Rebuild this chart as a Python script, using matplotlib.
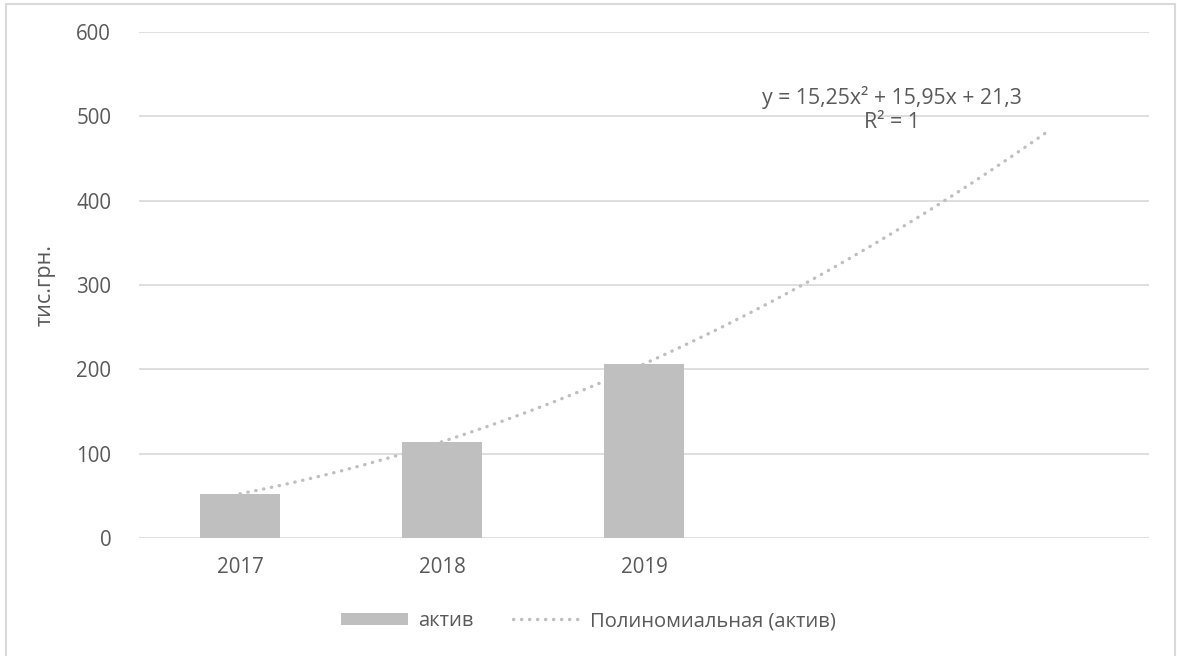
import numpy as np
import matplotlib.pyplot as plt

# Дані: актив по роках, тис.грн.
years = ['2017', '2018', '2019']
aktyv = [52.5, 114.2, 206.4]
# коефіцієнти поліноміального тренду (2-го ступеня)
coef = [15.25, 15.95, 21.3]
n_forward = 2

plt.rcParams['font.family'] = ['Open Sans', 'DejaVu Sans']
txt = '#595959'

fig = plt.figure(figsize=(11.77, 6.56), dpi=100)
ax = fig.add_axes([139/1177, 1-538/656, 1010/1177, 506/656])

n_all = len(years) + n_forward
x = np.arange(1, len(years)+1)
bars = ax.bar(x, aktyv, width=0.4, color='#BFBFBF', zorder=2, label='актив')

# лінія тренду на весь діапазон з прогнозом вперед
xt = np.linspace(1, n_all, 200)
yt = coef[0]*xt**2 + coef[1]*xt + coef[2]
trend, = ax.plot(xt, yt, color='#BFBFBF', lw=2.4, linestyle=(0, (0.1, 2.3)),
                 dash_capstyle='round', zorder=3, label='Полиномиальная (актив)')

ax.set_xlim(0.5, n_all + 0.5)
ax.set_ylim(0, 600)
ax.set_yticks(range(0, 601, 100))
ax.set_xticks(x)
ax.set_xticklabels(years)
ax.grid(axis='y', color='#D9D9D9', lw=1.2, zorder=0)
for s in ax.spines.values():
    s.set_visible(False)
ax.tick_params(length=0, labelsize=14.8, colors=txt)
ax.tick_params(axis='y', pad=20)
ax.tick_params(axis='x', pad=14)
ax.set_ylabel('тис.грн.', fontsize=15.5, color=txt, labelpad=15)

ax.text(892, 656-128, 'y = 15,25x² + 15,95x + 21,3\nR² = 1', transform=None,
        ha='center', va='baseline', fontsize=15.3, color=txt, linespacing=1.2)

ax.legend(handles=[bars, trend], loc='center', bbox_to_anchor=(0.5, 1-621/656),
          bbox_transform=fig.transFigure, ncol=2, frameon=False, fontsize=14.5,
          labelcolor=txt, handlelength=3.3, handleheight=0.6,
          columnspacing=2.0, handletextpad=0.5)

# рамка навколо діаграми
fig.patches.append(plt.Rectangle((6/1177, -0.01), 1169/1177, 1-4/656+0.01,
                                 transform=fig.transFigure, fill=False,
                                 edgecolor='#D9D9D9', lw=1.5))

fig.savefig('out.png', dpi=100)
